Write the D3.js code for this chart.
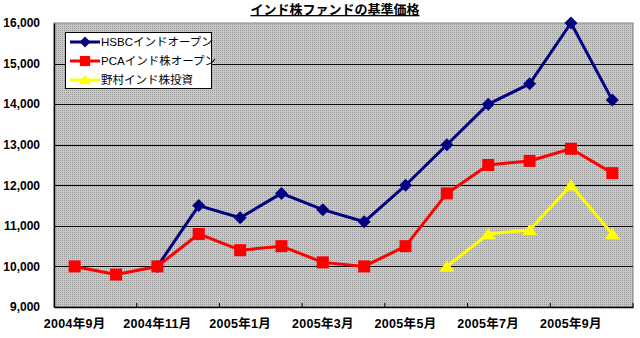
<!DOCTYPE html>
<html>
<head>
<meta charset="utf-8">
<script src="https://cdn.jsdelivr.net/npm/d3@7"></script>
<style>
  body { margin: 0; background: #fff; }
  text { font-family: "Liberation Sans", Arial, "Noto Sans CJK JP", sans-serif; }
</style>
</head>
<body>
<svg width="640" height="338"></svg>
<script>
var width = 640;
var height = 338;

var margin = { "top": 23, "bottom": 31, "left": 54, "right": 7 };

// months on the x axis
var months = ["2004年9月", "2004年10月", "2004年11月", "2004年12月", "2005年1月", "2005年2月",
              "2005年3月", "2005年4月", "2005年5月", "2005年6月", "2005年7月", "2005年8月",
              "2005年9月", "2005年10月"];

var hsbc   = [null, null, 10000, 11500, 11200, 11800, 11400, 11100, 12000, 13000, 14000, 14500, 16000, 14100];
var pca    = [10000, 9800, 10000, 10800, 10400, 10500, 10100, 10000, 10500, 11800, 12500, 12600, 12900, 12300];
var nomura = [null, null, null, null, null, null, null, null, null, 10000, 10800, 10900, 12000, 10800];

var yTicks = [9000, 10000, 11000, 12000, 13000, 14000, 15000, 16000];
var seriesNames = ["HSBCインドオープン", "PCAインド株オープン", "野村インド株投資"];
var title = "インド株ファンドの基準価格";

var svg = d3.select("svg")
            .attr("width", width)
            .attr("height", height);

// dotted grey fill like the excel plot area
var defs = svg.append("defs");
var pat = defs.append("pattern")
              .attr("id", "dots")
              .attr("width", 2)
              .attr("height", 2)
              .attr("patternUnits", "userSpaceOnUse");
pat.append("rect").attr("width", 2).attr("height", 2).attr("fill", "#c8c8c8");
pat.append("rect").attr("width", 1).attr("height", 1).attr("fill", "#9a9a9a");

var scaleX = d3.scaleBand()
               .domain(months)
               .range([margin.left, width - margin.right]);

var scaleY = d3.scaleLinear()
               .domain([9000, 16000])
               .range([height - margin.bottom, margin.top]);

var plotW = width - margin.right - margin.left;
var plotH = height - margin.bottom - margin.top;

svg.append("rect")
   .attr("x", margin.left)
   .attr("y", margin.top)
   .attr("width", plotW)
   .attr("height", plotH)
   .attr("fill", "url(#dots)")
   .attr("stroke", "#808080")
   .attr("stroke-width", 1);

// gridlines
svg.append("g")
   .selectAll("line")
   .data(yTicks.slice(1, -1))
   .enter()
   .append("line")
   .attr("x1", margin.left)
   .attr("x2", width - margin.right)
   .attr("y1", function(d) { return Math.round(scaleY(d)) + 0.5; })
   .attr("y2", function(d) { return Math.round(scaleY(d)) + 0.5; })
   .attr("stroke", "#000")
   .attr("stroke-width", 1);

// y axis
var yAxis = d3.axisLeft(scaleY)
              .tickValues(yTicks)
              .tickFormat(d3.format(","))
              .tickSize(0)
              .tickPadding(14);

var gy = svg.append("g")
            .attr("transform", "translate(" + margin.left + ",0)")
            .call(yAxis);
gy.select(".domain").attr("stroke", "#000").attr("stroke-width", 1.5);
gy.selectAll("text")
  .attr("font-size", 12)
  .attr("font-weight", "bold")
  .attr("fill", "#000");

// x axis: ticks every two months, labels under every other category
var xAxis = d3.axisBottom(scaleX)
              .tickValues(months.filter(function(d, i) { return i % 2 === 0; }))
              .tickSize(0)
              .tickPadding(12);

var gx = svg.append("g")
            .attr("transform", "translate(0," + (height - margin.bottom) + ")")
            .call(xAxis);
gx.select(".domain").attr("stroke", "#000").attr("stroke-width", 1.5);
gx.selectAll("text")
  .attr("font-size", 12.5)
  .attr("letter-spacing", 0.3)
  .attr("font-weight", "bold")
  .attr("fill", "#000");

gx.selectAll(".tm")
  .data(months.filter(function(d, i) { return i % 2 === 0; }).slice(1))
  .enter()
  .append("line")
  .attr("class", "tm")
  .attr("x1", function(d) { return scaleX(d); })
  .attr("x2", function(d) { return scaleX(d); })
  .attr("y1", 0)
  .attr("y2", -4)
  .attr("stroke", "#000");

gx.append("line")
  .attr("x1", width - margin.right)
  .attr("x2", width - margin.right)
  .attr("y1", 0)
  .attr("y2", -4)
  .attr("stroke", "#000");

var cx = function(i) { return scaleX(months[i]) + scaleX.bandwidth() / 2; };

var line = d3.line()
             .defined(function(d) { return d !== null; })
             .x(function(d, i) { return cx(i); })
             .y(function(d) { return scaleY(d); });

// excel style markers (r = half size)
function marker(kind, r) {
  if (kind === "diamond") return "M0," + (-r) + "L" + r + ",0L0," + r + "L" + (-r) + ",0Z";
  if (kind === "square") return "M" + (-r) + "," + (-r) + "h" + (2 * r) + "v" + (2 * r) + "h" + (-2 * r) + "Z";
  return "M0," + (-r) + "L" + (r * 1.25) + "," + (r * 0.85) + "L" + (-r * 1.25) + "," + (r * 0.85) + "Z";
}

var series = [
  { name: seriesNames[0], values: hsbc,   color: "#000080", shape: "diamond",  r: 6.5 },
  { name: seriesNames[1], values: pca,    color: "#ff0000", shape: "square",   r: 6 },
  { name: seriesNames[2], values: nomura, color: "#ffff00", shape: "triangle", r: 6 }
];

// draw nomura first, then hsbc, pca on top
[series[2], series[0], series[1]].forEach(function(s) {
  svg.append("path")
     .datum(s.values)
     .attr("fill", "none")
     .attr("stroke", s.color)
     .attr("stroke-width", 3)
     .attr("stroke-linejoin", "round")
     .attr("d", line);

  svg.append("g")
     .selectAll("path")
     .data(s.values.map(function(v, i) { return { v: v, i: i }; })
                   .filter(function(d) { return d.v !== null; }))
     .enter()
     .append("path")
     .attr("transform", function(d) { return "translate(" + cx(d.i) + "," + scaleY(d.v) + ")"; })
     .attr("d", marker(s.shape, s.r))
     .attr("fill", s.color);
});

// legend
var legend = svg.append("g").attr("transform", "translate(65,32)");
legend.append("rect")
      .attr("x", 0.5)
      .attr("y", 0.5)
      .attr("width", 146)
      .attr("height", 56)
      .attr("fill", "#fff")
      .attr("stroke", "#000");

series.forEach(function(s, i) {
  var y = 10 + i * 19;
  legend.append("line")
        .attr("x1", 5)
        .attr("x2", 35)
        .attr("y1", y)
        .attr("y2", y)
        .attr("stroke", s.color)
        .attr("stroke-width", 3);
  legend.append("path")
        .attr("transform", "translate(20," + y + ")")
        .attr("d", marker(s.shape, s.r * 0.85))
        .attr("fill", s.color);
  legend.append("text")
        .attr("x", 36)
        .attr("y", y)
        .attr("dy", "0.35em")
        .attr("font-size", 11.5)
        .attr("fill", "#000")
        .text(s.name);
});

// title
svg.append("text")
   .attr("x", 335)
   .attr("y", 14)
   .attr("text-anchor", "middle")
   .attr("font-size", 13)
   .attr("font-weight", "bold")
   .attr("text-decoration", "underline")
   .attr("fill", "#000")
   .text(title);
</script>
</body>
</html>
